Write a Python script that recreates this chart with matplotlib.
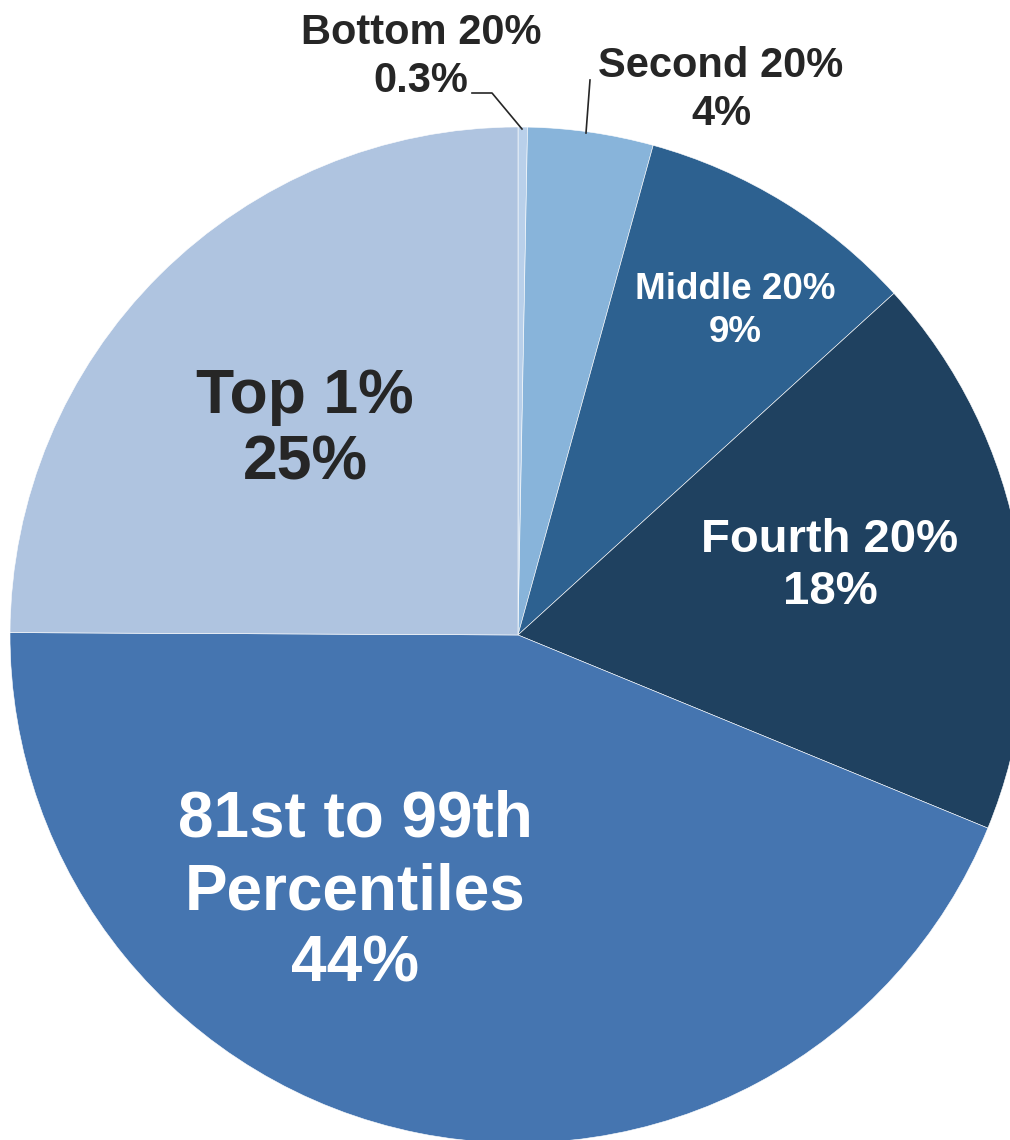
import matplotlib.pyplot as plt

plt.rcParams['font.family'] = ['Liberation Sans', 'DejaVu Sans']

labels = ["Bottom 20%", "Second 20%", "Middle 20%", "Fourth 20%",
          "81st to 99th\nPercentiles", "Top 1%"]
shares = [0.3, 4, 9, 18, 44, 25]
share_text = ["0.3%", "4%", "9%", "18%", "44%", "25%"]
colors = ["#b9d0ea", "#88b4da", "#2d6190", "#1f4160", "#4575b0", "#afc4e0"]

W, H = 1010, 1140
CX, CY, R = 518, 635, 508


def px(x, y):
    # pixel coords -> data coords (pie radius = 1)
    return (x - CX) / R, (CY - y) / R


fig = plt.figure(figsize=(W / 100, H / 100), dpi=100)
ax = fig.add_axes([0, 0, 1, 1])
ax.pie(shares, colors=colors, startangle=90, counterclock=False, radius=1,
       wedgeprops=dict(edgecolor="white", linewidth=0.4))
ax.set_xlim(-CX / R, (W - CX) / R)
ax.set_ylim(-(H - CY) / R, CY / R)
ax.set_aspect("auto")
ax.axis("off")

dark = "#262626"
# label position (pixel), font size, colour, line spacing
label_style = [
    ((421, 57), 30, dark, 1.25),
    ((721, 90), 30, dark, 1.25),
    ((735, 311), 26.5, "white", 1.27),
    ((830, 566), 34, "white", 1.22),
    ((355, 892), 46, "white", 1.27),
    ((305, 430), 45, dark, 1.17),
]
for lab, txt, ((x, y), size, col, ls) in zip(labels, share_text, label_style):
    tx, ty = px(x, y)
    ax.text(tx, ty, f"{lab}\n{txt}", ha="center", va="center", fontsize=size,
            fontweight="bold", color=col, linespacing=ls)

# leader lines for small slices
lx, ly = zip(*[px(522, 129), px(492, 93), px(472, 93)])
ax.plot(lx, ly, color=dark, linewidth=1.2)
lx, ly = zip(*[px(586, 133), px(590, 80)])
ax.plot(lx, ly, color=dark, linewidth=1.2)

fig.savefig("out.png", dpi=100)
